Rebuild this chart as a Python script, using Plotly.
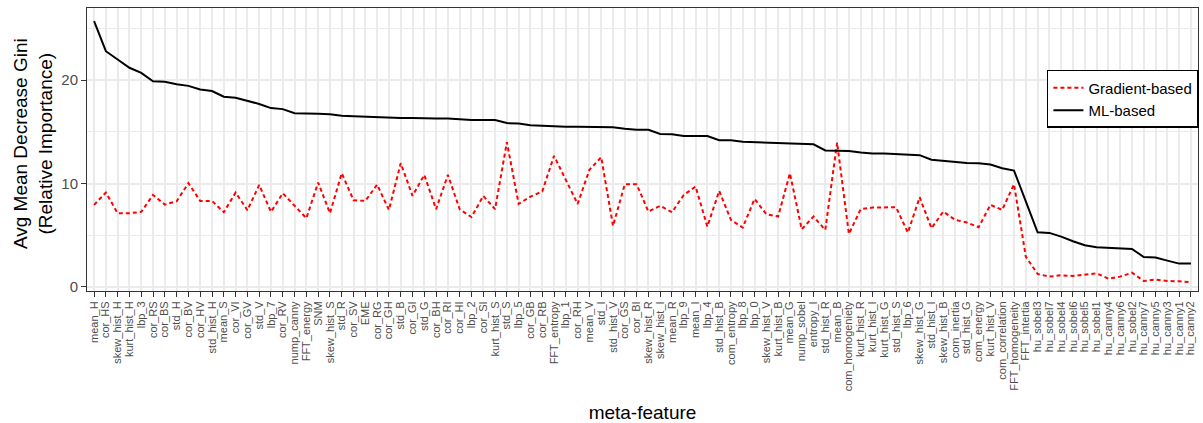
import plotly.graph_objects as go

features = ["mean_H", "cor_HS", "skew_hist_H", "kurt_hist_H", "lbp_3", "cor_RS", "cor_BS", "std_H", "cor_BV", "cor_HV",
            "std_hist_H", "mean_S", "cor_VI", "cor_GV", "std_V", "lbp_7", "cor_RV", "nump_canny", "FFT_energy", "SNM",
            "skew_hist_S", "std_R", "cor_SV", "EME", "cor_RG", "cor_GH", "std_B", "cor_GI", "std_G", "cor_BH",
            "cor_RI", "cor_HI", "lbp_2", "cor_SI", "kurt_hist_S", "std_S", "lbp_5", "cor_GB", "cor_RB", "FFT_entropy",
            "lbp_1", "cor_RH", "mean_V", "std_I", "std_hist_V", "cor_GS", "cor_BI", "skew_hist_R", "skew_hist_I", "mean_R",
            "lbp_9", "mean_I", "lbp_4", "std_hist_B", "com_entropy", "lbp_8", "lbp_0", "skew_hist_V", "kurt_hist_B", "mean_G",
            "nump_sobel", "entropy_I", "std_hist_R", "mean_B", "com_homogeniety", "kurt_hist_R", "kurt_hist_I", "kurt_hist_G", "std_hist_S", "lbp_6",
            "skew_hist_G", "std_hist_I", "skew_hist_B", "com_inertia", "std_hist_G", "com_energy", "kurt_hist_V", "com_correlation", "FFT_homogeneity", "FFT_intertia",
            "hu_sobel3", "hu_sobel7", "hu_sobel4", "hu_sobel6", "hu_sobel5", "hu_sobel1", "hu_canny4", "hu_canny6", "hu_sobel2", "hu_canny7",
            "hu_canny5", "hu_canny3", "hu_canny1", "hu_canny2"]

ml_based = [25.7, 22.8, 22.0, 21.2, 20.7, 19.9, 19.85, 19.6, 19.45, 19.1,
            18.95, 18.4, 18.3, 18.0, 17.7, 17.3, 17.2, 16.8, 16.8, 16.75,
            16.7, 16.55, 16.5, 16.45, 16.4, 16.4, 16.35, 16.35, 16.3, 16.3,
            16.3, 16.2, 16.15, 16.15, 16.15, 15.85, 15.8, 15.65, 15.6, 15.5,
            15.5, 15.5, 15.5, 15.45, 15.45, 15.3, 15.2, 15.2, 14.8, 14.78,
            14.6, 14.6, 14.6, 14.2, 14.2, 14.05, 14.0, 13.95, 13.9, 13.85,
            13.8, 13.8, 13.2, 13.15, 13.15, 13.0, 12.9, 12.9, 12.85, 12.8,
            12.75, 12.3, 12.2, 12.05, 12.0, 11.97, 11.84, 11.49, 11.26, 8.27,
            5.29, 5.23, 4.87, 4.42, 4.03, 3.84, 3.78, 3.71, 3.68, 2.9,
            2.84, 2.55, 2.26, 2.26]

gradient_based = [7.94, 9.13, 7.13, 7.13, 7.26, 8.9, 7.97, 8.29, 10.04, 8.32,
                  8.32, 7.23, 9.13, 7.42, 9.87, 7.26, 9.07, 7.84, 6.65, 10.1,
                  7.13, 11.0, 8.39, 8.32, 9.9, 7.45, 11.97, 8.81, 10.84, 7.52,
                  10.84, 7.52, 6.75, 8.81, 7.52, 14.0, 8.03, 8.74, 9.23, 12.68,
                  10.36, 8.03, 11.33, 12.55, 5.9, 9.94, 9.94, 7.29, 7.85, 7.23,
                  8.9, 9.71, 5.84, 9.29, 6.49, 5.74, 8.52, 7.04, 6.81, 11.0,
                  5.58, 6.81, 5.52, 13.97, 5.13, 7.52, 7.68, 7.68, 7.71, 5.26,
                  8.68, 5.68, 7.29, 6.5, 6.23, 5.78, 7.94, 7.45, 9.94, 2.93,
                  1.26, 1.0, 1.13, 1.06, 1.19, 1.32, 0.8, 1.0, 1.38, 0.58,
                  0.71, 0.58, 0.55, 0.45]

y_title = "Avg Mean Decrease Gini<br>(Relative Importance)"
x_title = "meta-feature"

font = "Liberation Sans, Arial, sans-serif"

fig = go.Figure()
fig.add_trace(go.Scatter(x=features, y=gradient_based, mode="lines", name="Gradient-based",
                         line=dict(color="#FF0000", width=2, dash="4px,3px")))
fig.add_trace(go.Scatter(x=features, y=ml_based, mode="lines", name="ML-based",
                         line=dict(color="black", width=2)))

fig.update_layout(
    width=1203, height=423,
    margin=dict(l=87, r=5, t=8, b=132, autoexpand=False),
    plot_bgcolor="white", paper_bgcolor="white",
    font=dict(family=font, color="black"),
    showlegend=True,
    legend=dict(x=0.864, y=0.781, xanchor="left", yanchor="top",
                bordercolor="black", borderwidth=1.5, bgcolor="white",
                font=dict(size=15, family=font), tracegroupgap=0),
    xaxis=dict(
        type="category", range=[-0.6, len(features) - 0.4],
        tickmode="array", tickvals=features, ticktext=features,
        tickangle=-90, tickfont=dict(size=11, color="#4D4D4D"),
        showgrid=True, gridcolor="#EBEBEB", gridwidth=1.5,
        ticks="outside", ticklen=5, tickcolor="#333333", tickwidth=1.2,
        showline=True, linecolor="#333333", linewidth=1, mirror=True,
        title=dict(text=x_title, font=dict(size=19), standoff=15),
        zeroline=False, automargin=False,
    ),
    yaxis=dict(
        range=[-0.39, 26.98],
        tickvals=[0, 10, 20], ticktext=["0", "10", "20"],
        tickfont=dict(size=15, color="#4D4D4D"),
        showgrid=True, gridcolor="#EBEBEB", gridwidth=1.5,
        minor=dict(tickvals=[5, 15, 25], showgrid=True, gridcolor="#EBEBEB", gridwidth=0.8, ticks=""),
        ticks="outside", ticklen=5, tickcolor="#333333", tickwidth=1.2,
        showline=True, linecolor="#333333", linewidth=1, mirror=True,
        zeroline=False, automargin=False,
    ),
    annotations=[dict(text=y_title, xref="paper", yref="paper", x=0, y=0.519,
                      xshift=-54, xanchor="center", yanchor="middle", textangle=-90,
                      showarrow=False, font=dict(size=19, family=font, color="black"))],
)

fig.write_html("out.html")
